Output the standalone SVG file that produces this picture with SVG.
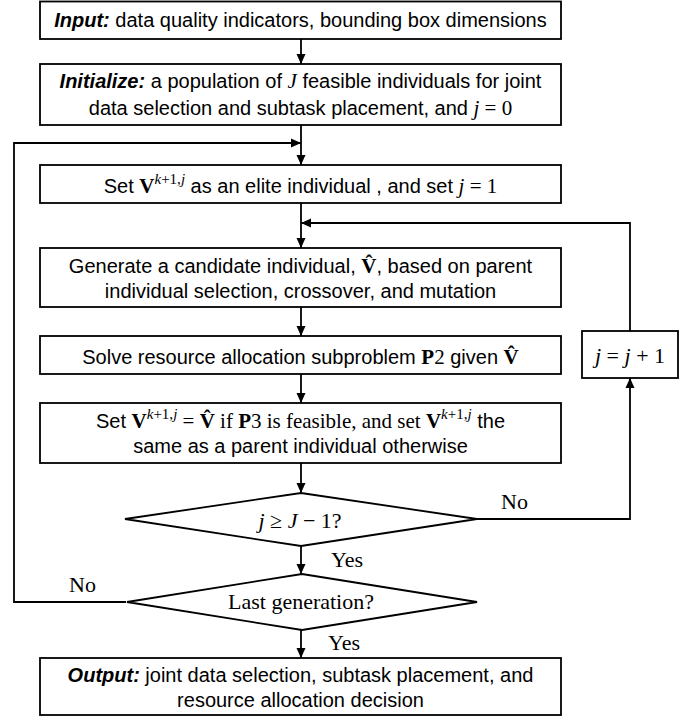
<svg xmlns="http://www.w3.org/2000/svg" width="699" height="719" viewBox="0 0 699 719">
<defs>
<style>
.box{fill:#fff;stroke:#000;stroke-width:1.8}
.t{font-family:"Liberation Sans",Arial,sans-serif;font-size:20px;text-anchor:middle;fill:#000}
.m{font-family:"Liberation Serif","Times New Roman",serif;font-size:21px}
.i{font-style:italic}
.b{font-weight:bold}
.bi{font-weight:bold;font-style:italic}
.sup{font-size:15px}
.lbl{font-family:"Liberation Serif","Times New Roman",serif;font-size:22px;fill:#000}
.edge{fill:none;stroke:#000;stroke-width:1.8}
</style>
<marker id="arr" markerUnits="userSpaceOnUse" markerWidth="10" markerHeight="10" refX="10" refY="5" orient="auto">
<path d="M0,0.5 L10,5 L0,9.5 z" fill="#000"/>
</marker>
</defs>
<rect width="699" height="719" fill="#fff"/>

<g id="connectors">
<path class="edge" d="M301,39 V64" marker-end="url(#arr)"/>
<path class="edge" d="M301,125 V165" marker-end="url(#arr)"/>
<path class="edge" d="M126,602 H14 V143 H301" marker-end="url(#arr)"/>
<path class="edge" d="M301,203 V248" marker-end="url(#arr)"/>
<path class="edge" d="M630,331 V223 H301" marker-end="url(#arr)"/>
<path class="edge" d="M301,307 V336" marker-end="url(#arr)"/>
<path class="edge" d="M301,374 V403" marker-end="url(#arr)"/>
<path class="edge" d="M301,463 V493" marker-end="url(#arr)"/>
<path class="edge" d="M477,519 H630 V378" marker-end="url(#arr)"/>
<path class="edge" d="M301,546 V574" marker-end="url(#arr)"/>
<path class="edge" d="M301,630 V658" marker-end="url(#arr)"/>
<text class="lbl" x="501" y="509">No</text>
<text class="lbl" x="69" y="592">No</text>
<text class="lbl" x="331" y="567">Yes</text>
<text class="lbl" x="328" y="650">Yes</text>
</g>

<g id="input">
<rect class="box" x="40" y="1.5" width="521" height="37.5"/>
<text class="t" x="300.5" y="27"><tspan class="bi">Input:</tspan> data quality indicators, bounding box dimensions</text>
</g>

<g id="initialize">
<rect class="box" x="40" y="64" width="521" height="61"/>
<text class="t" x="300.5" y="88"><tspan class="bi">Initialize:</tspan> a population of <tspan class="m i">J</tspan> feasible individuals for joint</text>
<text class="t" x="300.5" y="115">data selection and subtask placement, and <tspan class="m"><tspan class="i">j</tspan>  =  0</tspan></text>
</g>

<g id="elite">
<rect class="box" x="40" y="165" width="521" height="38"/>
<text class="t" x="300.5" y="193">Set <tspan class="m b">V</tspan><tspan class="m sup" dy="-9"><tspan class="i">k</tspan>+1,<tspan class="i">j</tspan></tspan><tspan dy="9"> as an elite individual , and set </tspan><tspan class="m"><tspan class="i">j</tspan>  =  1</tspan></text>
</g>

<g id="generate">
<rect class="box" x="40" y="248" width="521" height="59"/>
<text class="t" x="300.5" y="273">Generate a candidate individual, <tspan class="m b">V̂</tspan>, based on parent</text>
<text class="t" x="300.5" y="298">individual selection, crossover, and mutation</text>
</g>

<g id="solve">
<rect class="box" x="40" y="336" width="521" height="38"/>
<text class="t" x="300.5" y="364">Solve resource allocation subproblem <tspan class="m"><tspan class="b">P</tspan>2</tspan> given <tspan class="m b">V̂</tspan></text>
</g>

<g id="setv">
<rect class="box" x="40" y="403" width="521" height="60"/>
<text class="t" x="300.5" y="428">Set <tspan class="m b">V</tspan><tspan class="m sup" dy="-9"><tspan class="i">k</tspan>+1,<tspan class="i">j</tspan></tspan><tspan class="m" dy="9">  =  <tspan class="b">V̂</tspan> if <tspan class="b">P</tspan>3 is feasible, and set <tspan class="b">V</tspan></tspan><tspan class="m sup" dy="-9"><tspan class="i">k</tspan>+1,<tspan class="i">j</tspan></tspan><tspan dy="9"> the</tspan></text>
<text class="t" x="300.5" y="453">same as a parent individual otherwise</text>
</g>

<g id="check-j">
<polygon class="box" points="301,493 477,519 301,546 125,519"/>
<text class="lbl" x="300" y="528" text-anchor="middle"><tspan class="i">j</tspan> ≥ <tspan class="i">J</tspan> − 1?</text>
</g>

<g id="increment">
<rect class="box" x="582" y="331" width="96" height="47"/>
<text class="lbl" x="630" y="363" text-anchor="middle" font-size="24"><tspan class="i">j</tspan> = <tspan class="i">j</tspan> + 1</text>
</g>

<g id="last-gen">
<polygon class="box" points="302,574 477,602 302,630 127,602"/>
<text class="lbl" x="301" y="609" text-anchor="middle">Last generation?</text>
</g>

<g id="output">
<rect class="box" x="40" y="658" width="521" height="57"/>
<text class="t" x="300.5" y="682"><tspan class="bi">Output:</tspan> joint data selection, subtask placement, and</text>
<text class="t" x="300.5" y="707">resource allocation decision</text>
</g>
</svg>
